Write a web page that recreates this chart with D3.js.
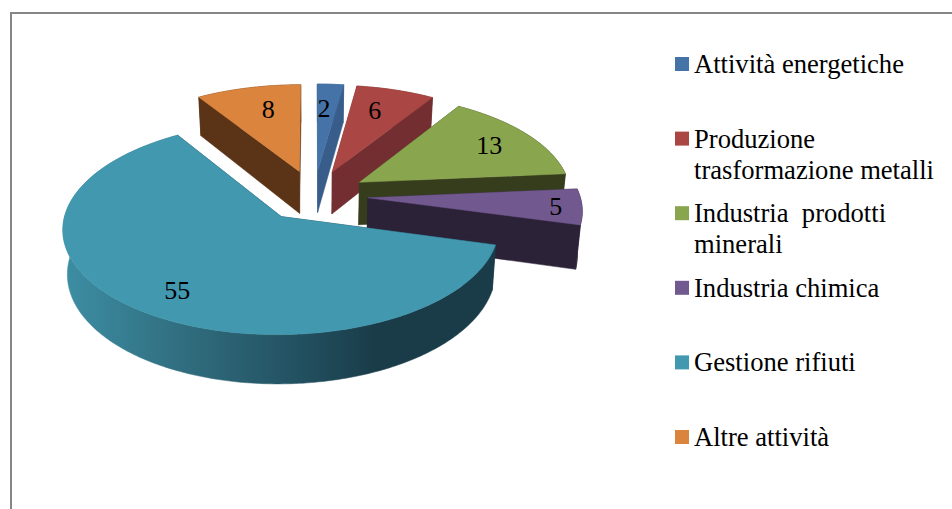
<!DOCTYPE html>
<html>
<head>
<meta charset="utf-8">
<script src="https://cdn.jsdelivr.net/npm/d3@7"></script>
<style>
  html, body { margin: 0; padding: 0; background: #fff; }
  svg { display: block; }
  text { font-family: "Liberation Serif", serif; fill: #000; white-space: pre; }
</style>
</head>
<body>
<div id="chart"></div>
<script>
// chart values
var categories = ["Attività energetiche", "Produzione trasformazione metalli", "Industria  prodotti minerali",
                  "Industria chimica", "Gestione rifiuti", "Altre attività"]
var values = [2, 6, 13, 5, 55, 8]
var legendLines = [["Attività energetiche"], ["Produzione", "trasformazione metalli"], ["Industria  prodotti", "minerali"],
                   ["Industria chimica"], ["Gestione rifiuti"], ["Altre attività"]]

// slice styling
var topColors = ["#4572a7", "#aa4643", "#89a54e", "#71588f", "#4198af", "#db843d"]
var wallColors = ["#385d8a", "#722e30", "#363d1c", "#2c2238", "#1a3c49", "#5b3316"]
// hand placed labels, the original was dragged around too
var labelNudge = [[-4, 7], [-8, 4], [-2, 1], [21, 2], [6, 3], [9.5, 4]]

var width = 952, height = 509

// 3d pie settings
var cx = 314, cy = 195.5,
    radius = 212,
    explode = 54,
    tilt = 0.475,
    persp = 0.10,
    depth = 43,
    converge = 0.018

var svg = d3.select("#chart").append("svg")
  .attr("width", width)
  .attr("height", height)

// chart frame, runs off the right and bottom of the picture
svg.append("rect")
  .attr("x", 11).attr("y", 13)
  .attr("width", width + 20).attr("height", height + 20)
  .attr("fill", "#fff")
  .attr("stroke", "#868686")
  .attr("stroke-width", 2)

var grad = svg.append("defs").append("linearGradient")
  .attr("id", "tealWall")
  .attr("gradientUnits", "userSpaceOnUse")
  .attr("x1", 63).attr("x2", 497).attr("y1", 0).attr("y2", 0)
grad.selectAll("stop")
  .data([[0, "#3d8ea4"], [0.3, "#2f6b7c"], [0.55, "#225060"], [0.72, "#1a3c49"], [1, "#1a3c49"]])
  .enter().append("stop")
  .attr("offset", function(d){ return d[0] })
  .attr("stop-color", function(d){ return d[1] })

//------------------------------------------------------------------------------
// ground plane -> screen, z goes 0 (top face) to 1 (bottom of the walls)
//------------------------------------------------------------------------------
function project(gx, gy, z) {
  z = z || 0
  var w = 1 + persp * gy / 200
  return [cx + gx / w * (1 - z * converge), cy - tilt * gy / w + z * depth / w]
}

function slicePoint(d, theta, r, z) {
  var mid = (d.startAngle + d.endAngle) / 2,
      gx = explode * Math.sin(mid) + r * Math.sin(theta),
      gy = explode * Math.cos(mid) + r * Math.cos(theta)
  return project(gx, gy, z)
}

function arcPoints(d, z) {
  var n = Math.ceil((d.endAngle - d.startAngle) * 60)
  return d3.range(n + 1).map(function(i){
    return slicePoint(d, d.startAngle + (d.endAngle - d.startAngle) * i / n, radius, z)
  })
}

var line = d3.line()

var pie = d3.pie().sort(null).value(function(d){ return d })
var slices = pie(values)

var groups = svg.selectAll("g.slice")
  .data(slices)
  .enter().append("g")
  .attr("class", "slice")

groups.each(function(d, i){
  var g = d3.select(this),
      wall = i == 4 ? "url(#tealWall)" : wallColors[i],
      flat = wallColors[i]

  function wallFace(theta) {
    return line([slicePoint(d, 0, 0, 0), slicePoint(d, theta, radius, 0),
                 slicePoint(d, theta, radius, 1), slicePoint(d, 0, 0, 1)]) + "Z"
  }

  var outer = arcPoints(d, 0).concat(arcPoints(d, 1).reverse())

  g.append("path").attr("d", wallFace(d.endAngle)).attr("fill", flat).attr("stroke", flat).attr("stroke-width", 0.5)
  g.append("path").attr("d", wallFace(d.startAngle)).attr("fill", flat).attr("stroke", flat).attr("stroke-width", 0.5)
  g.append("path").attr("d", line(outer) + "Z").attr("fill", wall).attr("stroke", wall).attr("stroke-width", 0.5)

  var top = [slicePoint(d, 0, 0, 0)].concat(arcPoints(d, 0))
  g.append("path").attr("d", line(top) + "Z").attr("fill", topColors[i]).attr("stroke", topColors[i]).attr("stroke-width", 0.5)
})

// value labels
svg.selectAll("text.value")
  .data(slices)
  .enter().append("text")
  .attr("class", "value")
  .attr("text-anchor", "middle")
  .attr("dy", "0.33em")
  .attr("font-size", 26)
  .attr("x", function(d, i){
    return slicePoint(d, (d.startAngle + d.endAngle) / 2, radius * 0.78, 0)[0] + labelNudge[i][0]
  })
  .attr("y", function(d, i){
    return slicePoint(d, (d.startAngle + d.endAngle) / 2, radius * 0.78, 0)[1] + labelNudge[i][1]
  })
  .text(function(d){ return d.value })

//------------------------------------------------------------------------------
// legend
//------------------------------------------------------------------------------
var legendY = d3.scalePoint().domain(categories).range([73, 446])

var legend = svg.selectAll("g.legend")
  .data(categories)
  .enter().append("g")
  .attr("class", "legend")
  .attr("transform", function(d){ return "translate(675," + legendY(d) + ")" })

legend.append("rect")
  .attr("x", 0).attr("y", -16)
  .attr("width", 14).attr("height", 14)
  .attr("fill", function(d, i){ return topColors[i] })

legend.each(function(d, i){
  d3.select(this).selectAll("text")
    .data(legendLines[i])
    .enter().append("text")
    .attr("x", 19)
    .attr("y", function(t, j){ return j * 31 })
    .attr("font-size", 26.6)
    .text(function(t){ return t })
})
</script>
</body>
</html>
